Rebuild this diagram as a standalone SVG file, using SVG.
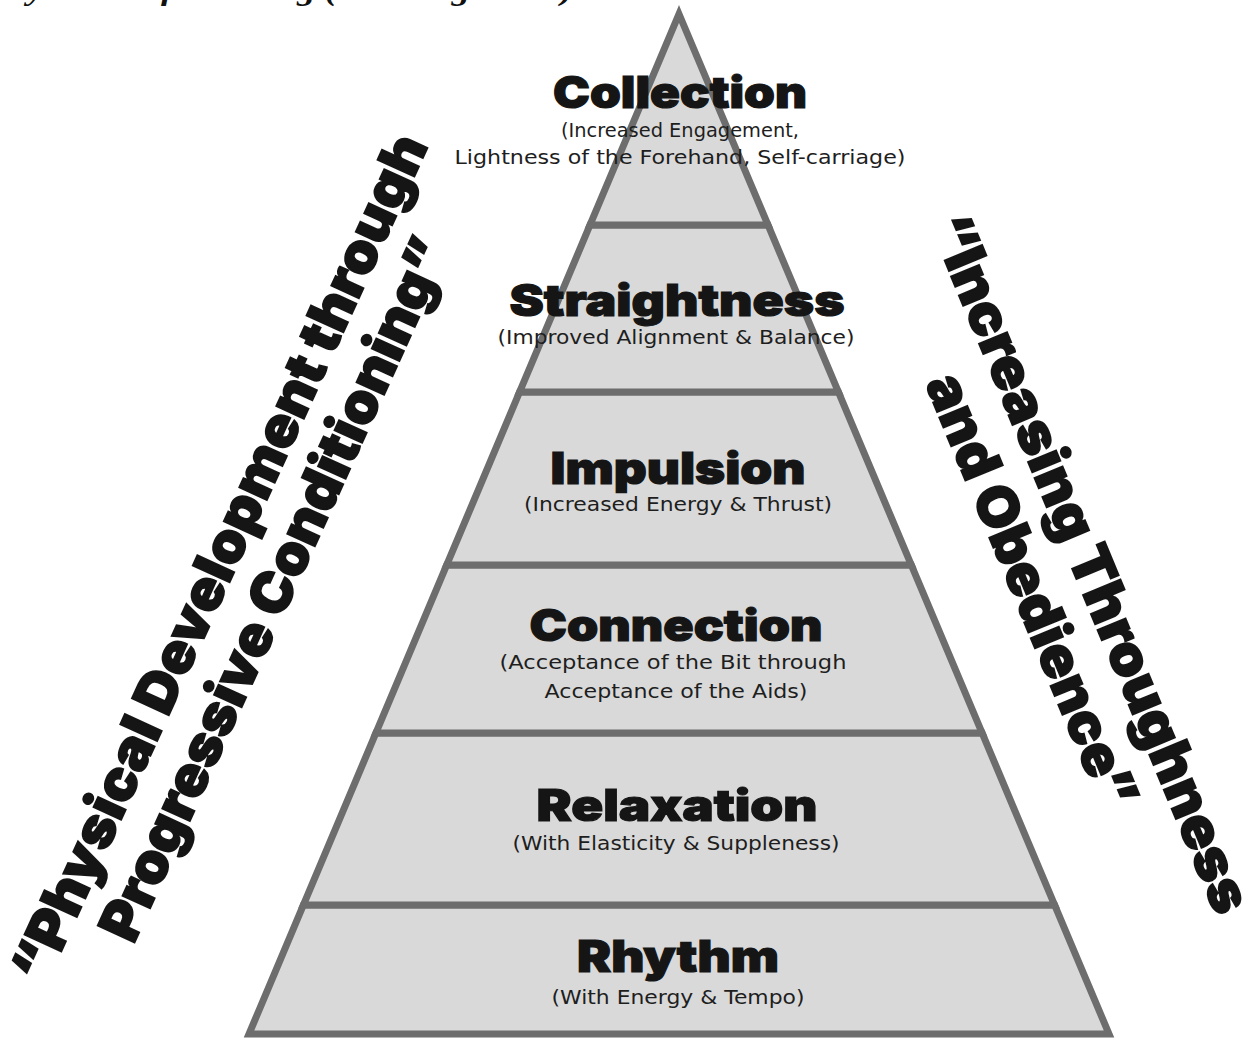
<svg xmlns="http://www.w3.org/2000/svg" width="1243" height="1042" viewBox="0 0 1243 1042">
<style>
.layer{fill:#d9d9d9;stroke:#6d6d6d;stroke-width:7;stroke-linejoin:miter}
.title{font-family:Inter,Lato,"Noto Sans",sans-serif;font-weight:900;font-size:44px;fill:#151515;stroke:#151515;stroke-width:1.2;text-anchor:middle}
.sub{font-family:"DejaVu Sans","Noto Sans",sans-serif;font-size:19px;fill:#1e1e1e;text-anchor:middle}
.side{font-family:Inter,Lato,"Noto Sans",sans-serif;font-weight:900;font-size:56px;fill:#151515;stroke:#151515;stroke-width:1.6;text-anchor:middle}
.head{font-family:"Liberation Serif",serif;font-weight:bold;font-style:italic;font-size:30px;fill:#111}
</style>
<rect width="1243" height="1042" fill="#ffffff"/>
<text class="head" x="5" y="0" textLength="568" lengthAdjust="spacingAndGlyphs">Pyramid of Training (Training Scale)</text>
<g id="connectors"/>
<g id="rhythm">
<polygon class="layer" points="303.4,905 1054.6,905 1109,1034 249,1034"/>
<text class="title" x="678" y="972" textLength="202" lengthAdjust="spacingAndGlyphs">Rhythm</text>
<text class="sub" x="678" y="1004" textLength="253" lengthAdjust="spacingAndGlyphs">(With Energy &amp; Tempo)</text>
</g>
<g id="relaxation">
<polygon class="layer" points="375.9,733 982.1,733 1054.6,905 303.4,905"/>
<text class="title" x="677" y="821" textLength="281" lengthAdjust="spacingAndGlyphs">Relaxation</text>
<text class="sub" x="676" y="850" textLength="327" lengthAdjust="spacingAndGlyphs">(With Elasticity &amp; Suppleness)</text>
</g>
<g id="connection">
<polygon class="layer" points="446.7,565 911.3,565 982.1,733 375.9,733"/>
<text class="title" x="676" y="641" textLength="293" lengthAdjust="spacingAndGlyphs">Connection</text>
<text class="sub" x="673" y="669" textLength="347" lengthAdjust="spacingAndGlyphs">(Acceptance of the Bit through</text>
<text class="sub" x="676" y="698" textLength="263" lengthAdjust="spacingAndGlyphs">Acceptance of the Aids)</text>
</g>
<g id="impulsion">
<polygon class="layer" points="519.6,392 838.4,392 911.3,565 446.7,565"/>
<text class="title" x="678" y="484" textLength="255" lengthAdjust="spacingAndGlyphs">Impulsion</text>
<text class="sub" x="678" y="511" textLength="308" lengthAdjust="spacingAndGlyphs">(Increased Energy &amp; Thrust)</text>
</g>
<g id="straightness">
<polygon class="layer" points="590,225 768,225 838.4,392 519.6,392"/>
<text class="title" x="677" y="316" textLength="335" lengthAdjust="spacingAndGlyphs">Straightness</text>
<text class="sub" x="676" y="344" textLength="357" lengthAdjust="spacingAndGlyphs">(Improved Alignment &amp; Balance)</text>
</g>
<g id="collection">
<polygon class="layer" points="679,14 768,225 590,225"/>
<text class="title" x="680" y="108" textLength="254" lengthAdjust="spacingAndGlyphs">Collection</text>
<text class="sub" x="680" y="137" textLength="238" lengthAdjust="spacingAndGlyphs">(Increased Engagement,</text>
<text class="sub" x="680" y="164" textLength="451" lengthAdjust="spacingAndGlyphs">Lightness of the Forehand, Self-carriage)</text>
</g>
<g id="left-label">
<text class="side" transform="translate(237,566) rotate(-65.5)" textLength="925" lengthAdjust="spacingAndGlyphs">“Physical Development through</text>
<text class="side" transform="translate(292,597) rotate(-65.5)" textLength="765" lengthAdjust="spacingAndGlyphs">Progressive Conditioning”</text>
</g>
<g id="right-label">
<text class="side" transform="translate(1073,571) rotate(67.5)" textLength="750" lengthAdjust="spacingAndGlyphs">“Increasing Throughness</text>
<text class="side" transform="translate(1014,598) rotate(67.5)" textLength="465" lengthAdjust="spacingAndGlyphs">and Obedience”</text>
</g>
</svg>
